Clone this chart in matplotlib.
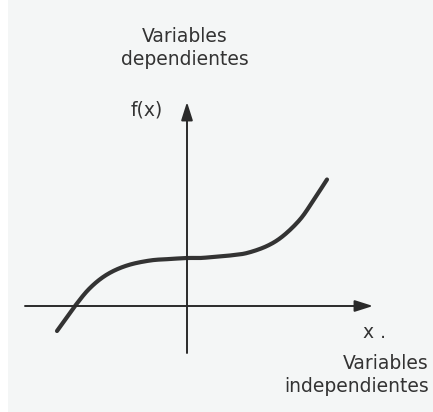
import matplotlib.pyplot as plt
import numpy as np

# curve points (origin at the axes crossing)
curve_x = [-130, -112, -97, -80, -60, -37, -17, 0, 13, 26, 43, 60, 80, 96, 113, 126, 140]
curve_y = [-25, 0, 18, 31.5, 40.5, 45.5, 47, 48, 48, 49, 50.5, 53, 60, 70, 86.5, 105, 126.5]

top_label = "Variables\ndependientes"
bottom_label = "Variables\nindependientes"
y_name = "f(x)"
x_name = "x ."


def catmull_rom(px, py, steps=20):
    # smooth drawing path through the read points
    p = np.column_stack([px, py]).astype(float)
    p = np.vstack([2 * p[0] - p[1], p, 2 * p[-1] - p[-2]])
    out = []
    t = np.linspace(0, 1, steps, endpoint=False)[:, None]
    for i in range(1, len(p) - 2):
        p0, p1, p2, p3 = p[i - 1], p[i], p[i + 1], p[i + 2]
        seg = 0.5 * ((2 * p1) + (-p0 + p2) * t
                     + (2 * p0 - 5 * p1 + 4 * p2 - p3) * t**2
                     + (-p0 + 3 * p1 - 3 * p2 + p3) * t**3)
        out.append(seg)
    out.append(p[-2][None, :])
    out = np.vstack(out)
    return out[:, 0], out[:, 1]


fig = plt.figure(figsize=(4.33, 4.12), dpi=100, facecolor="#f4f6f6")
ax = fig.add_axes([0, 0, 1, 1])
ax.set_facecolor("#f4f6f6")
ax.set_xlim(-187, 246)
ax.set_ylim(-106, 306)
ax.axis("off")

# white strip on the left edge of the scan
ax.axvspan(-187, -179, color="white", lw=0)

# axes with arrow heads
ax.annotate("", xy=(186, 0), xytext=(-162, 0),
            arrowprops=dict(arrowstyle="-|>,head_length=1.1,head_width=0.35",
                            color="#2a2a2a", lw=1.4, shrinkA=0, shrinkB=0))
ax.annotate("", xy=(0, 204), xytext=(0, -47),
            arrowprops=dict(arrowstyle="-|>,head_length=1.1,head_width=0.35",
                            color="#2a2a2a", lw=1.4, shrinkA=0, shrinkB=0))

sx, sy = catmull_rom(curve_x, curve_y)
ax.plot(sx, sy, color="#333333", lw=3,
        solid_capstyle="round", solid_joinstyle="round")

ax.text(-2, 258, top_label, ha="center", va="center", fontsize=13.5,
        color="#333333", linespacing=1.25)
ax.text(-40, 196, y_name, ha="center", va="center", fontsize=13.5, color="#333333")
ax.text(176, -27, x_name, ha="left", va="center", fontsize=13.5, color="#333333")
ax.text(242, -69, bottom_label, ha="right", va="center", fontsize=13.5,
        color="#333333", linespacing=1.25, multialignment="right")

fig.savefig("out.png", dpi=100, facecolor=fig.get_facecolor())
